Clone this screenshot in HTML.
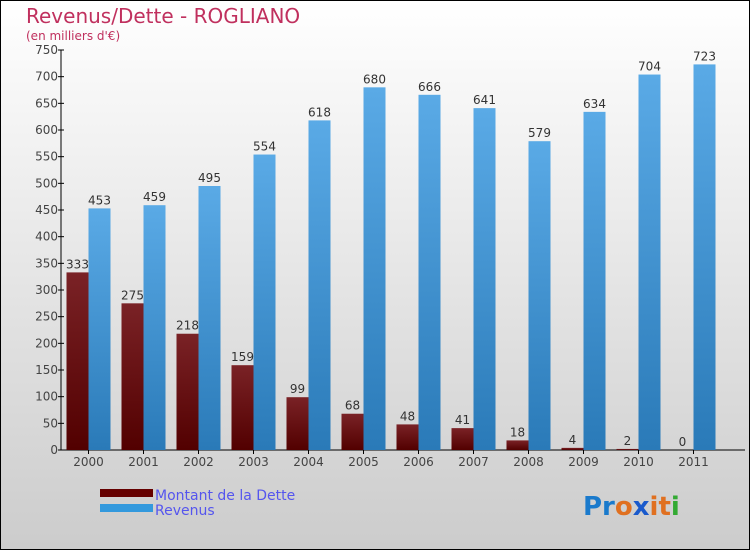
<!DOCTYPE html>
<html><head><meta charset="utf-8"><style>
body{margin:0}
svg{display:block;font-family:"DejaVu Sans","Liberation Sans",sans-serif}
</style></head><body>
<svg width="750" height="550" viewBox="0 0 750 550">
<defs>
<linearGradient id="bg" x1="0" y1="0" x2="0" y2="1"><stop offset="0" stop-color="#ffffff"/><stop offset="1" stop-color="#cccccc"/></linearGradient>
<linearGradient id="gd" x1="0" y1="0" x2="0" y2="1"><stop offset="0" stop-color="#7a2226"/><stop offset="1" stop-color="#520000"/></linearGradient>
<linearGradient id="gr" x1="0" y1="0" x2="0" y2="1"><stop offset="0" stop-color="#5aaae6"/><stop offset="1" stop-color="#2a7ab8"/></linearGradient>
</defs>
<rect x="0.5" y="0.5" width="749" height="549" fill="url(#bg)" stroke="#000"/>
<text x="26" y="23" font-size="20" fill="#c0305e">Revenus/Dette - ROGLIANO</text>
<text x="26" y="40" font-size="12" fill="#c0305e">(en milliers d'€)</text>
<g id="axes"></g>
<g id="bars"></g>
<g>
<rect x="100" y="489" width="53" height="8" fill="#650000"/>
<text x="155" y="500" font-size="14" fill="#5555ee">Montant de la Dette</text>
<rect x="100" y="504" width="53" height="8" fill="#3399dd"/>
<text x="155" y="515" font-size="14" fill="#5555ee">Revenus</text>
</g>
<text x="583" y="515" font-size="26" font-weight="bold"><tspan fill="#1a7acc">Pr</tspan><tspan fill="#e07020">o</tspan><tspan fill="#1a5acc">x</tspan><tspan fill="#e07020">it</tspan><tspan fill="#33aa33">i</tspan></text>
</svg>
<script>
const categories=["2000","2001","2002","2003","2004","2005","2006","2007","2008","2009","2010","2011"];
const debtValues=[333,275,218,159,99,68,48,41,18,4,2,0];
const revenueValues=[453,459,495,554,618,680,666,641,579,634,704,723];
const yTicks=[0,50,100,150,200,250,300,350,400,450,500,550,600,650,700,750];
const NS="http://www.w3.org/2000/svg";
const x0=61,step=55,y0=450,yMax=750,yTop=50;
const y=v=>y0-(y0-yTop)*v/yMax;
const cx=i=>x0+(i+0.5)*step;
function mk(t,a,p){const e=document.createElementNS(NS,t);for(const k in a)e.setAttribute(k,a[k]);p.appendChild(e);return e;}
const ax=document.getElementById('axes'),bg=document.getElementById('bars');
let l=mk('line',{x1:x0,y1:yTop,x2:x0,y2:y0,stroke:'#000'},ax);


l=mk('line',{x1:x0,y1:y0,x2:745,y2:y0,stroke:'#000'},ax);


yTicks.forEach(v=>{
 const t=mk('line',{x1:x0-3,x2:x0+3,y1:y(v),y2:y(v),stroke:'#000'},ax);
 
 
 const tx=mk('text',{x:x0-3,y:y(v)+4,'font-size':12,'text-anchor':'end',fill:'#444'},ax);
 tx.textContent=v;
 
 
});
categories.forEach((c,i)=>{
 const t=mk('text',{x:cx(i),y:466,'font-size':12,'text-anchor':'middle',fill:'#444'},ax);
 t.textContent=c;
 
 
 const tk=mk('line',{x1:cx(i),x2:cx(i),y1:y0,y2:y0+4,stroke:'#000'},ax);
 
 
 const d=debtValues[i],r=revenueValues[i];
 const b1=mk('rect',{x:cx(i)-22,y:y(d),width:22,height:y0-y(d),fill:'url(#gd)'},bg);
 
 
 const b2=mk('rect',{x:cx(i),y:y(r),width:22,height:y0-y(r),fill:'url(#gr)'},bg);
 
 
 const t1=mk('text',{x:cx(i)-11,y:y(d)-4,'font-size':12,'text-anchor':'middle',fill:'#333'},bg);
 t1.textContent=d;
 
 
 const t2=mk('text',{x:cx(i)+11,y:y(r)-4,'font-size':12,'text-anchor':'middle',fill:'#333'},bg);
 t2.textContent=r;
 
 
});
</script>
</body></html>
